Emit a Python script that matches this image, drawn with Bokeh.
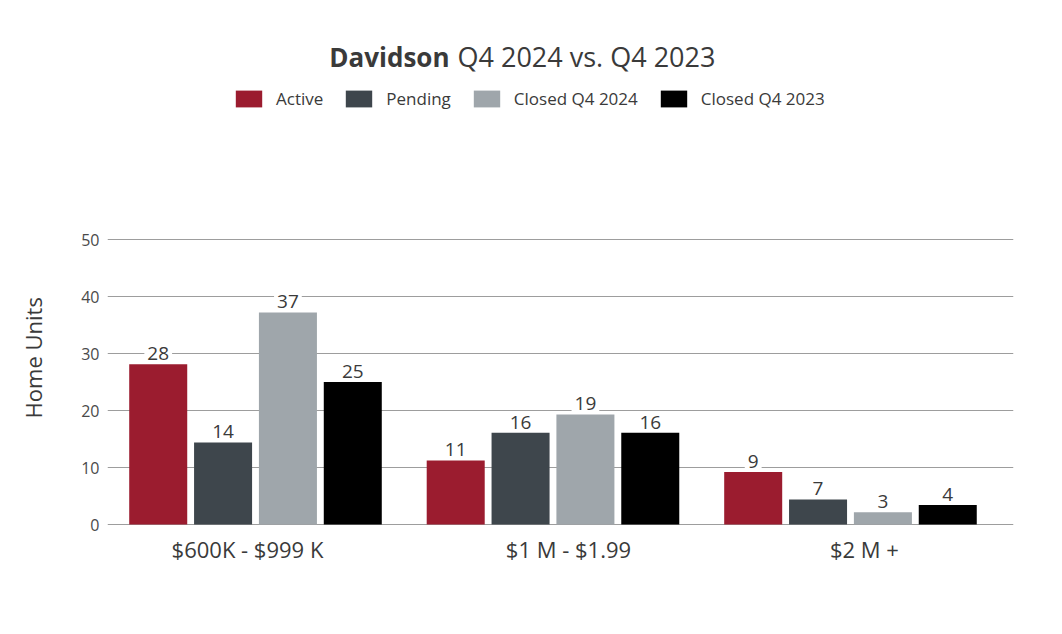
from bokeh.plotting import figure
from bokeh.models import (ColumnDataSource, Range1d, FixedTicker, Legend, LegendItem, Label)
from bokeh.core.properties import value
from bokeh.embed import file_html
from bokeh.resources import INLINE

# ---- data ----
categories = ["$600K - $999 K", "$1 M - $1.99", "$2 M +"]
series = ["Active", "Pending", "Closed Q4 2024", "Closed Q4 2023"]
active = [28.1, 11.25, 9.2]
pending = [14.4, 16.1, 4.4]
closed_2024 = [37.2, 19.3, 2.15]
closed_2023 = [25.0, 16.1, 3.4]
active_labels = ["28", "11", "9"]
pending_labels = ["14", "16", "7"]
closed_2024_labels = ["37", "19", "3"]
closed_2023_labels = ["25", "16", "4"]
y_ticks = [0, 10, 20, 30, 40, 50]

# ---- style / layout ----
colors = ["#9b1c2f", "#3e464c", "#9fa6ab", "#000000"]
offsets = [-0.327, -0.109, 0.109, 0.327]
label_shift = [-0.027, 0.052, 0.047]   # category label nudges, as in the original layout
bar_w = 0.195
FONT = "Open Sans"
TXT = "#3a3a3a"

# frame: x 107..1013, y 0..526 (page px); 5.7 px per unit, 0 at y=524
PX = 5.7
y_start = -2 / PX
y_end = 526 / PX + y_start

p = figure(width=1062, height=634, output_backend="svg", toolbar_location=None,
           x_range=Range1d(-0.4975, 2.548), y_range=Range1d(y_start, y_end),
           min_border_left=107, min_border_right=49, min_border_top=0, min_border_bottom=108)
p.outline_line_color = None
p.background_fill_color = "white"
p.border_fill_color = "white"

renderers = []
all_vals = [active, pending, closed_2024, closed_2023]
all_lbls = [active_labels, pending_labels, closed_2024_labels, closed_2023_labels]
for i, (vals, lbls) in enumerate(zip(all_vals, all_lbls)):
    src = ColumnDataSource(dict(x=[k + offsets[i] for k in range(len(categories))],
                                top=vals, lbl=lbls))
    r = p.vbar(x="x", top="top", bottom=0, width=bar_w, source=src, fill_color=colors[i],
               line_color=None)
    renderers.append(r)
    p.text(x="x", y="top", text="lbl", source=src, text_align="center",
           text_baseline="bottom", text_font=value(FONT), text_font_size="19px",
           text_color=TXT, y_offset=-1, background_fill_color="white", padding=3)

# axes
xt = [k + s for k, s in zip(range(len(categories)), label_shift)]
p.xaxis.ticker = FixedTicker(ticks=xt)
p.xaxis.major_label_overrides = {t: c for t, c in zip(xt, categories)}
p.xaxis.axis_line_color = None
p.xaxis.major_tick_line_color = None
p.xaxis.major_tick_out = 0
p.xaxis.minor_tick_line_color = None
p.xaxis.major_label_text_font = FONT
p.xaxis.major_label_text_font_size = "22px"
p.xaxis.major_label_text_color = TXT
p.xaxis.major_label_standoff = 7

p.yaxis.ticker = FixedTicker(ticks=y_ticks)
p.yaxis.axis_line_color = None
p.yaxis.major_tick_line_color = None
p.yaxis.major_tick_out = 0
p.yaxis.minor_tick_line_color = None
p.yaxis.major_label_text_font = FONT
p.yaxis.major_label_text_font_size = "16px"
p.yaxis.major_label_text_color = "#4a4a4a"
p.yaxis.major_label_standoff = 8
# trailing no-break spaces move the visible label down to sit beside the gridded area
p.yaxis.axis_label = "Home Units" + "\u00a0" * 33
p.yaxis.axis_label_text_font = FONT
p.yaxis.axis_label_text_font_size = "22px"
p.yaxis.axis_label_text_font_style = "normal"
p.yaxis.axis_label_text_color = TXT
p.yaxis.axis_label_standoff = 30

p.xgrid.grid_line_color = None
p.ygrid.grid_line_color = "#9d9d9d"
p.ygrid.grid_line_width = 1.2

# legend
legend = Legend(items=[LegendItem(label=s, renderers=[r]) for s, r in zip(series, renderers)],
                location=(125, 416), orientation="horizontal", glyph_width=33, glyph_height=21,
                label_standoff=11, spacing=19, padding=0, margin=0, border_line_color=None,
                background_fill_alpha=0, label_text_font=FONT, label_text_font_size="17px",
                label_text_color=TXT, label_height=21)
p.add_layout(legend, "center")

# title
p.add_layout(Label(x=342, y=470, x_units="screen", y_units="screen", text="Davidson",
                   text_align="right", text_baseline="alphabetic", text_font=FONT,
                   text_font_style="bold", text_font_size="26px", text_color=TXT))
p.add_layout(Label(x=350, y=470, x_units="screen", y_units="screen", text="Q4 2024 vs. Q4 2023",
                   text_align="left", text_baseline="alphabetic", text_font=FONT,
                   text_font_style="normal", text_font_size="27px", text_color=TXT))

open("out.html", "w").write(file_html(p, INLINE))
